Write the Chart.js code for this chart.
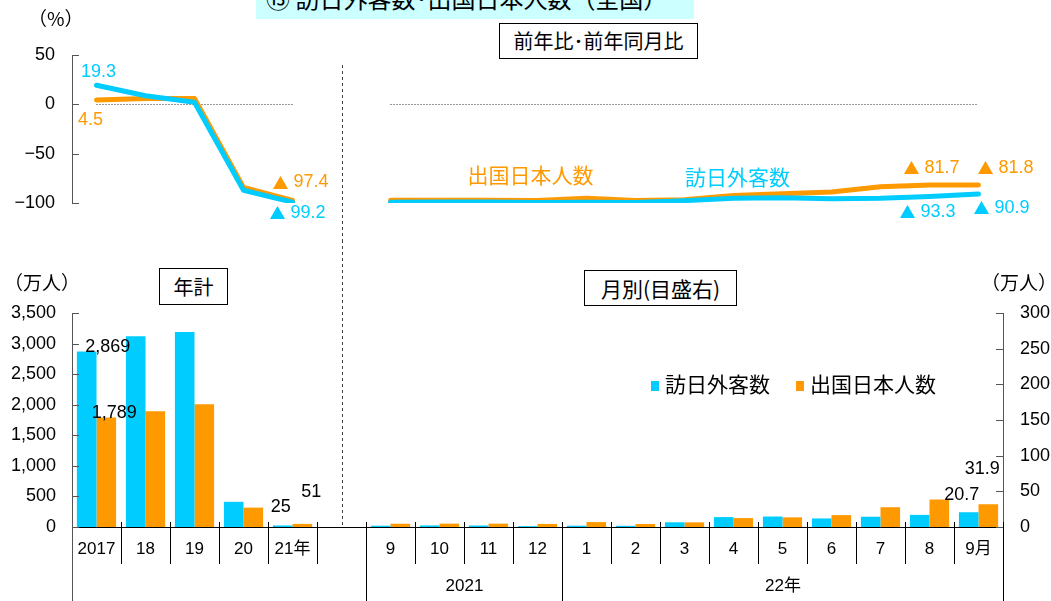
<!DOCTYPE html>
<html lang="ja">
<head>
<meta charset="utf-8">
<title>訪日外客数・出国日本人数（全国）</title>
<script src="https://cdn.jsdelivr.net/npm/chart.js@4.4.1/dist/chart.umd.min.js"></script>
<style>
  body { margin: 0; background: #fff; }
  #wrap { position: relative; width: 1051px; height: 601px; overflow: hidden; background: #fff;
          font-family: "Noto Sans CJK JP", sans-serif; color: #000; }
  .pane { position: absolute; left: 0; width: 1051px; }
  .title { position: absolute; left: 256px; top: 0; width: 438px; height: 19px; background: #ccffff; overflow: hidden; }
  .title span { position: absolute; left: 10px; top: -14px; font-size: 24px; line-height: 24px; white-space: nowrap; }
  .box { position: absolute; border: 1px solid #000; background: #fff; box-sizing: border-box;
         display: flex; align-items: center; justify-content: center; font-size: 20px; line-height: 20px; white-space: nowrap; }
  .unit { position: absolute; font-size: 19px; line-height: 19px; white-space: nowrap; }
  .legend { position: absolute; left: 651px; top: 372px; font-size: 21px; line-height: 22px; white-space: nowrap; }
  .legend i { display: inline-block; width: 8px; height: 10px; margin-right: 6px; vertical-align: 1px; }
</style>
</head>
<body>
<div id="wrap">
  <div class="pane" style="top:0;height:240px"><canvas id="rateChart"></canvas></div>
  <div class="pane" style="top:240px;height:361px"><canvas id="countChart"></canvas></div>

  <div class="title"><span>⑬ 訪日外客数･出国日本人数（全国）</span></div>
  <div class="box" style="left:499px;top:23px;width:199px;height:36px">前年比･前年同月比</div>
  <div class="box" style="left:159px;top:268px;width:69px;height:37px">年計</div>
  <div class="box" style="left:584px;top:270px;width:153px;height:36px;font-size:21px">月別(目盛右)</div>
  <div class="unit" style="left:28px;top:8px">（%）</div>
  <div class="unit" style="left:4px;top:272px">（万人）</div>
  <div class="unit" style="left:981px;top:272px">（万人）</div>
  <div class="legend"><i style="background:#00ccff"></i>訪日外客数<span style="display:inline-block;width:26px"></span><i style="background:#ff9900"></i>出国日本人数</div>
</div>

<script>
// categories: annual totals, one empty slot, then monthly (2021/9 - 2022/9)
const annualLabels = ['2017', '18', '19', '20', '21年'];
const monthLabels = ['9', '10', '11', '12', '1', '2', '3', '4', '5', '6', '7', '8', '9月'];
const monthGroups = [['2021', 4], ['22年', 9]];

// 万人
const visitorsAnnual = [2869, 3119, 3188, 412, 25];
const departuresAnnual = [1789, 1895, 2008, 317, 51];
const visitorsMonthly = [1.8, 2.2, 2.1, 1.2, 1.8, 1.7, 6.6, 13.9, 14.7, 12.0, 14.4, 17.0, 20.7];
const departuresMonthly = [4.6, 4.7, 4.7, 4.3, 6.9, 4.2, 6.5, 12.5, 13.5, 16.7, 27.7, 38.5, 31.9];

// %
const visitorsAnnualRate = [19.3, 8.7, 2.2, -87.1, -99.2];
const departuresAnnualRate = [4.5, 6.0, 5.9, -84.2, -97.4];
const visitorsMonthlyRate = [-99.2, -99.1, -99.1, -99.5, -99.3, -99.4, -97.6, -95.2, -94.7, -95.8, -95.2, -93.3, -90.9];
const departuresMonthlyRate = [-97.3, -97.2, -97.2, -97.4, -95.2, -97.4, -96.7, -92.4, -90.6, -88.9, -83.5, -81.7, -81.8];

const CYAN = '#00ccff';
const ORANGE = '#ff9900';
const NUM_FONT = '"Liberation Sans", "DejaVu Sans", "Noto Sans CJK JP", sans-serif';
const CJK_FONT = '"Noto Sans CJK JP", sans-serif';

Chart.defaults.font.family = NUM_FONT;
Chart.defaults.color = '#000';

const xLabels = [...annualLabels, '', ...monthLabels];
const gapIndex = annualLabels.length;
const noAnnual = annualLabels.map(() => null);
const noMonthly = monthLabels.map(() => null);

// labels next to points / bars (text comes from the data)
const rateNotes = [
  { ds: 0, i: 0, dx: 2, dy: -13 },
  { ds: 1, i: 0, dx: -6, dy: 20 },
  { ds: 1, i: 4, dx: 8, dy: -18 },
  { ds: 0, i: 4, dx: 5, dy: 11 },
  { ds: 1, i: 17, dx: 2, dy: -17 },
  { ds: 1, i: 18, dx: 27, dy: -17 },
  { ds: 0, i: 17, dx: -2, dy: 16 },
  { ds: 0, i: 18, dx: 23, dy: 14 }
];
const seriesNotes = [
  { ds: 1, i: 9, dx: -7, dy: -25 },
  { ds: 0, i: 13, dx: 4, dy: -21 }
];
const barNotes = [
  { ds: 0, i: 0, dx: 21, dy: -5 },
  { ds: 1, i: 0, dx: 8, dy: -5 },
  { ds: 0, i: 4, dx: -2, dy: -18 },
  { ds: 1, i: 4, dx: 9, dy: -32 },
  { ds: 2, i: 18, dx: -7, dy: -17 },
  { ds: 3, i: 18, dx: -6, dy: -35 }
];

function fmtCount(v, ds) {
  return ds < 2 ? v.toLocaleString('en-US') : v.toFixed(1);
}

// "▲ 97.4" style label: big triangle from the CJK font, number in the sans font
function drawRate(ctx, v, cx, cy) {
  const num = Math.abs(v).toFixed(1);
  ctx.textBaseline = 'middle';
  ctx.textAlign = 'left';
  ctx.font = '18px ' + NUM_FONT;
  const nw = ctx.measureText(num).width;
  if (v >= 0) {
    ctx.fillText(num, cx - nw / 2, cy);
    return;
  }
  ctx.font = '16px ' + CJK_FONT;
  const mw = ctx.measureText('▲').width;
  const gap = 5;
  const x0 = cx - (mw + gap + nw) / 2;
  ctx.fillText('▲', x0, cy);
  ctx.font = '18px ' + NUM_FONT;
  ctx.fillText(num, x0 + mw + gap, cy);
}

// small tick marks pointing into the plot
const inwardTicks = {
  id: 'inwardTicks',
  afterDraw(chart) {
    const ctx = chart.ctx;
    ctx.save();
    ctx.strokeStyle = '#555';
    ctx.lineWidth = 1;
    Object.values(chart.scales).forEach(s => {
      if (s.axis !== 'y' || !s.options.display) return;
      const left = s.position === 'left';
      const x = left ? s.right : s.left;
      s.ticks.forEach((t, i) => {
        const y = Math.round(s.getPixelForTick(i)) + 0.5;
        ctx.beginPath();
        ctx.moveTo(x, y);
        ctx.lineTo(x + (left ? 7 : -7), y);
        ctx.stroke();
      });
    });
    ctx.restore();
  }
};

// dashed divider between annual and monthly parts
function drawDivider(chart, top, bottom) {
  const ctx = chart.ctx;
  const x = Math.round(chart.scales.x.getPixelForValue(gapIndex)) + 0.5;
  ctx.save();
  ctx.strokeStyle = '#444';
  ctx.lineWidth = 1;
  ctx.setLineDash([3, 3]);
  ctx.beginPath();
  ctx.moveTo(x, top);
  ctx.lineTo(x, bottom);
  ctx.stroke();
  ctx.restore();
}

const rateDeco = {
  id: 'rateDeco',
  beforeDatasetsDraw(chart) {
    const ctx = chart.ctx;
    const xs = chart.scales.x;
    const y0 = Math.round(chart.scales.y.getPixelForValue(0)) + 0.5;
    ctx.save();
    ctx.strokeStyle = '#333';
    ctx.lineWidth = 1;
    ctx.setLineDash([1, 2]);
    [[0, gapIndex - 1], [gapIndex + 1, xLabels.length - 1]].forEach(([a, b]) => {
      ctx.beginPath();
      ctx.moveTo(xs.getPixelForValue(a), y0);
      ctx.lineTo(xs.getPixelForValue(b), y0);
      ctx.stroke();
    });
    ctx.restore();
    drawDivider(chart, 65, chart.height);
  },
  afterDatasetsDraw(chart) {
    const ctx = chart.ctx;
    ctx.save();
    rateNotes.forEach(n => {
      const ds = chart.data.datasets[n.ds];
      const pt = chart.getDatasetMeta(n.ds).data[n.i];
      ctx.fillStyle = ds.borderColor;
      drawRate(ctx, ds.data[n.i], pt.x + n.dx, pt.y + n.dy);
    });
    ctx.textAlign = 'center';
    ctx.textBaseline = 'middle';
    ctx.font = '21px ' + CJK_FONT;
    seriesNotes.forEach(n => {
      const ds = chart.data.datasets[n.ds];
      const pt = chart.getDatasetMeta(n.ds).data[n.i];
      ctx.fillStyle = ds.borderColor;
      ctx.fillText(ds.label, pt.x + n.dx, pt.y + n.dy);
    });
    ctx.restore();
  }
};

const countDeco = {
  id: 'countDeco',
  afterDraw(chart) {
    const ctx = chart.ctx;
    const xs = chart.scales.x;
    const axisY = chart.chartArea.bottom;
    const step = xs.getPixelForValue(1) - xs.getPixelForValue(0);
    const edge = i => Math.round(xs.getPixelForValue(i) - step / 2) + 0.5;

    // boundaries where a group starts run to the bottom
    const full = [gapIndex + 1];
    let k = gapIndex + 1;
    monthGroups.forEach(g => { k += g[1]; full.push(k); });

    ctx.save();
    ctx.strokeStyle = '#000';
    ctx.lineWidth = 1;
    for (let i = 1; i <= xLabels.length; i++) {
      const isFull = full.includes(i);
      ctx.beginPath();
      ctx.moveTo(edge(i), axisY - 5);
      ctx.lineTo(edge(i), isFull ? chart.height : axisY + 37);
      ctx.stroke();
    }
    ctx.strokeStyle = '#555';
    ctx.beginPath();
    ctx.moveTo(edge(0), axisY);
    ctx.lineTo(edge(0), chart.height);
    ctx.stroke();

    // year groups under the months
    ctx.fillStyle = '#000';
    ctx.textAlign = 'center';
    ctx.textBaseline = 'middle';
    ctx.font = '17px ' + NUM_FONT;
    let start = gapIndex + 1;
    monthGroups.forEach(([label, count]) => {
      const x = (edge(start) + edge(start + count)) / 2;
      ctx.fillText(label, x, axisY + 59);
      start += count;
    });

    // values on bars
    ctx.font = '18px ' + NUM_FONT;
    barNotes.forEach(n => {
      const bar = chart.getDatasetMeta(n.ds).data[n.i];
      const v = chart.data.datasets[n.ds].data[n.i];
      ctx.fillText(fmtCount(v, n.ds), bar.x + n.dx, bar.y + n.dy);
    });
    ctx.restore();

    drawDivider(chart, 0, axisY);
  }
};

new Chart(document.getElementById('rateChart'), {
  type: 'line',
  data: {
    labels: xLabels,
    datasets: [
      { label: '訪日外客数', data: [...visitorsAnnualRate, null, ...visitorsMonthlyRate],
        borderColor: CYAN, borderWidth: 5, pointRadius: 0, tension: 0, spanGaps: false,
        borderCapStyle: 'round', borderJoinStyle: 'round' },
      { label: '出国日本人数', data: [...departuresAnnualRate, null, ...departuresMonthlyRate],
        borderColor: ORANGE, borderWidth: 5, pointRadius: 0, tension: 0, spanGaps: false,
        borderCapStyle: 'round', borderJoinStyle: 'round' }
    ]
  },
  options: {
    responsive: true,
    maintainAspectRatio: false,
    animation: false,
    layout: { padding: { top: 55, bottom: 37, left: 0, right: 48 } },
    plugins: { legend: { display: false }, tooltip: { enabled: false } },
    scales: {
      x: { display: false, offset: true },
      y: {
        min: -100, max: 50,
        grid: { display: false },
        border: { display: true, color: '#555' },
        ticks: { stepSize: 50, padding: 9, font: { size: 18 },
                 callback: v => v < 0 ? '−' + Math.abs(v) : v },
        afterFit: s => { s.width = 72; }
      }
    }
  },
  plugins: [inwardTicks, rateDeco]
});

new Chart(document.getElementById('countChart'), {
  type: 'bar',
  data: {
    labels: xLabels,
    datasets: [
      { label: '訪日外客数', data: [...visitorsAnnual, null, ...noMonthly], yAxisID: 'yL', backgroundColor: CYAN },
      { label: '出国日本人数', data: [...departuresAnnual, null, ...noMonthly], yAxisID: 'yL', backgroundColor: ORANGE },
      { label: '訪日外客数（月）', data: [...noAnnual, null, ...visitorsMonthly], yAxisID: 'yR', backgroundColor: CYAN },
      { label: '出国日本人数（月）', data: [...noAnnual, null, ...departuresMonthly], yAxisID: 'yR', backgroundColor: ORANGE }
    ]
  },
  options: {
    responsive: true,
    maintainAspectRatio: false,
    animation: false,
    skipNull: true,
    categoryPercentage: 0.8,
    barPercentage: 1,
    layout: { padding: { top: 73, bottom: 0, left: 0, right: 0 } },
    plugins: { legend: { display: false }, tooltip: { enabled: false } },
    scales: {
      x: {
        offset: true,
        grid: { display: false },
        border: { display: true, color: '#000' },
        ticks: { padding: 4, font: { size: 17 }, autoSkip: false, maxRotation: 0 },
        afterFit: s => { s.height = 74; }
      },
      yL: {
        position: 'left',
        min: 0, max: 3500,
        grid: { display: false },
        border: { display: true, color: '#555' },
        ticks: { stepSize: 500, padding: 8, font: { size: 18 },
                 callback: v => v.toLocaleString('en-US') },
        afterFit: s => { s.width = 72; }
      },
      yR: {
        position: 'right',
        min: 0, max: 300,
        grid: { display: false },
        border: { display: true, color: '#555' },
        ticks: { stepSize: 50, padding: 9, font: { size: 18 } },
        afterFit: s => { s.width = 48; }
      }
    }
  },
  plugins: [inwardTicks, countDeco]
});
</script>
</body>
</html>
